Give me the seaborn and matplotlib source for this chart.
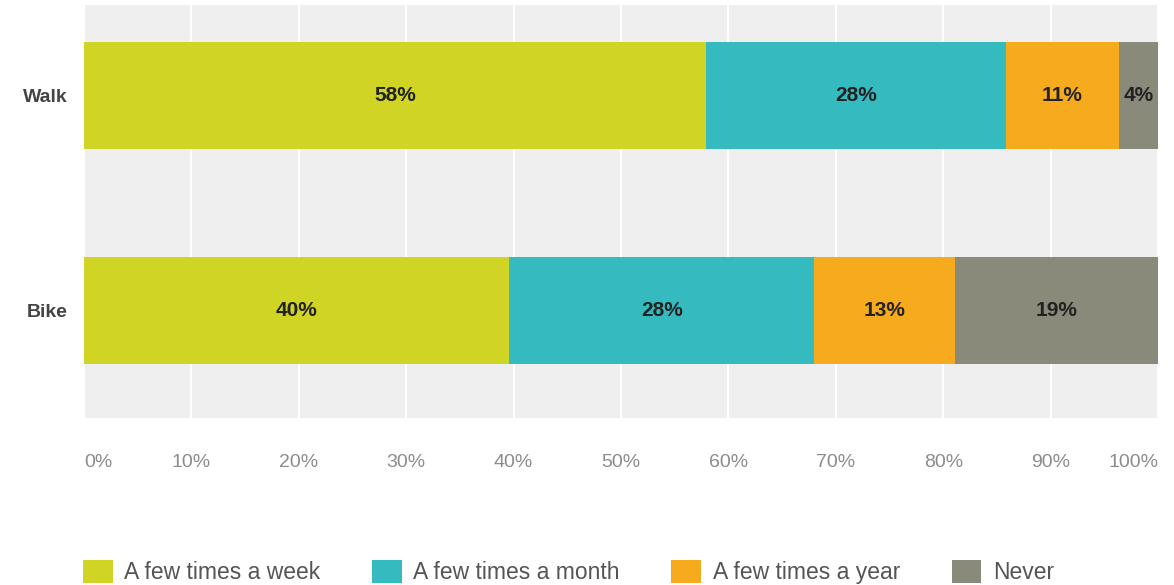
import numpy as np
import pandas as pd
import matplotlib
matplotlib.use("Agg")
import matplotlib.pyplot as plt
from matplotlib.patches import Patch
import seaborn as sns

# data
modes = ["Walk", "Bike"]
freq_labels = ["A few times a week", "A few times a month", "A few times a year", "Never"]
walk_pct = [57.9, 27.9, 10.6, 3.6]
bike_pct = [39.6, 28.4, 13.1, 18.9]
colors = ["#d0d424", "#35bbbf", "#f6ab1e", "#8a8a7a"]

sns.set_style("whitegrid")
plt.rcParams['font.family'] = ['Liberation Sans', 'DejaVu Sans']

df = pd.DataFrame({"mode": np.repeat(modes, len(freq_labels)),
                   "freq": freq_labels * len(modes),
                   "pct": walk_pct + bike_pct})
df["cum"] = df.groupby("mode", sort=False)["pct"].cumsum()

fig = plt.figure(figsize=(11.74, 5.85), dpi=100)
ax = fig.add_axes([0.0715, 0.2855, 0.915, 0.706])
ax.set_facecolor("#efefef")

# stacked: draw the cumulative ends from last to first
for freq, col in reversed(list(zip(freq_labels, colors))):
    sub = df[df["freq"] == freq]
    sns.barplot(data=sub, x="cum", y="mode", order=modes, color=col,
                width=0.5, ax=ax, linewidth=0, saturation=1)

for _, r in df.iterrows():
    yi = modes.index(r["mode"])
    ax.text(r["cum"] - r["pct"] / 2, yi, f"{round(r['pct'])}%", ha="center", va="center",
            fontsize=15, fontweight="bold", color="#222222")

ax.set_xlim(0, 100)
ax.set_ylim(1.5, -0.42)
ticks = list(range(0, 101, 10))
ax.set_xticks(ticks)
ax.set_xticklabels([f"{t}%" for t in ticks], color="#8c8c8c", fontsize=14)
xt = ax.get_xticklabels()
xt[0].set_ha("left")
xt[-1].set_ha("right")
ax.tick_params(axis="x", pad=26, length=0)
ax.tick_params(axis="y", length=0, pad=12)
for lab in ax.get_yticklabels():
    lab.set_fontweight("bold")
    lab.set_color("#444444")
    lab.set_fontsize(14)
ax.set_xlabel("")
ax.set_ylabel("")
ax.grid(axis="x", color="white", linewidth=1.5)
ax.grid(axis="y", visible=False)
ax.set_axisbelow(True)
for s in ax.spines.values():
    s.set_visible(False)

handles = [Patch(facecolor=c, edgecolor="none", label=l) for l, c in zip(freq_labels, colors)]
fig.legend(handles=handles, loc="center left", bbox_to_anchor=(0.061, 0.022), ncol=4,
           frameon=False, fontsize=16.5, handlelength=1.3, handleheight=1.2, borderpad=0,
           columnspacing=2.25, handletextpad=0.5, labelcolor="#555555")

fig.savefig("out.png", dpi=100)
